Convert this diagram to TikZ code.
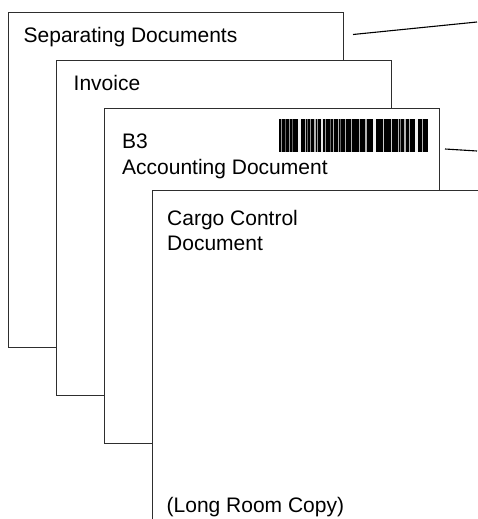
\documentclass[tikz,border=0pt]{standalone}
\usepackage{fontspec}
\setmainfont{Liberation Sans}
\begin{document}
\begin{tikzpicture}[x=1pt,y=-1pt,
  page/.style={draw=black!82, fill=white, line width=0.9pt},
  pageedge/.style={draw=black!82, line width=0.9pt},
  lbl/.style={anchor=base west, inner sep=0pt, font=\fontsize{21}{25.5}\selectfont},
  callout/.style={draw=black, line width=1.1pt},
  stripe/.style={fill=white}]
\useasboundingbox (0,0) rectangle (477,519);
% page 1
\draw[page] (8,12.3) rectangle (343.5,347.7);
\node[lbl] (sep) at (23.5,42.7) {Separating Documents};
% page 2
\draw[page] (56,60.5) rectangle (391.5,395.7);
\node[lbl] (inv) at (73.5,90.7) {Invoice};
% page 3
\draw[page] (104.3,108.5) rectangle (439.5,443.7);
\node[lbl] (b3) at (122,148.5) {B3};
\node[lbl] (acc) at (122,174.3) {Accounting Document};
\node[fill=black, inner sep=0pt, minimum width=149pt, minimum height=32.5pt, anchor=north west] (bar) at (279,119) {};
\foreach \x/\w/\o in {281/1/0.6, 285/1/0.4, 289/1/0.6, 292/1/0.4, 299.3/2.5/0.95,
  305/1/0.7, 307.3/1/0.4, 310/1/0.6, 315/1.2/0.7, 317.7/1/0.6, 322.3/2/0.9,
  325/1/0.6, 330/1/0.4, 333.3/1.2/0.7, 338.3/1.2/0.7, 340.7/1/0.4, 345.7/1.2/0.7,
  351.7/1.2/0.7, 359.3/1.2/0.7, 366/1.2/0.7, 374.3/3/0.95, 383.3/1.2/0.8,
  391.7/1.2/0.8, 398.3/1.2/0.7, 400.3/1/0.5, 405/1.2/0.7, 409.3/1.2/0.7,
  416.7/3/0.95, 422.7/1.2/0.7}
  \fill[stripe, opacity=\o] (\x-\w/2,119) rectangle (\x+\w/2,151.5);
% page 4 (cut by the frame)
\fill[white] (152.3,190) rectangle (478,520);
\draw[pageedge] (152.3,520) -- (152.3,190) -- (478,190);
\node[lbl] (cargo) at (167,225.3) {Cargo Control};
\node[lbl] (doc) at (167,250.8) {Document};
\node[lbl] (copy) at (166.5,512) {(Long Room Copy)};
% callout lines
\coordinate (c1a) at (353,34.5);
\coordinate (c1b) at (477,22);
\coordinate (c2a) at (445,149);
\coordinate (c2b) at (477,151);
\draw[callout] (c1a) -- (c1b);
\draw[callout] (c2a) -- (c2b);
\end{tikzpicture}
\end{document}
